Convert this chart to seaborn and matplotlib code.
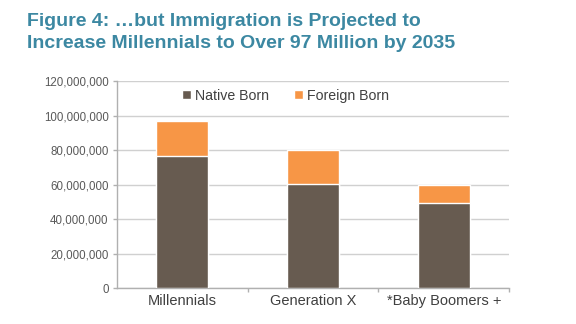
import matplotlib
matplotlib.use("Agg")
import matplotlib.pyplot as plt
import seaborn as sns
import pandas as pd
from matplotlib.patches import Patch
from matplotlib.ticker import FuncFormatter, MultipleLocator

categories = ["Millennials", "Generation X", "*Baby Boomers +"]
native_born = [76800000, 60300000, 49500000]
foreign_born = [20300000, 19900000, 10000000]

title = "Figure 4: \u2026but Immigration is Projected to\nIncrease Millennials to Over 97 Million by 2035"

sns.set_theme(style="white")
plt.rcParams['font.family'] = ['Liberation Sans', 'DejaVu Sans']

df = pd.DataFrame({"cat": categories, "native": native_born, "foreign": foreign_born})
df["total"] = df["native"] + df["foreign"]

fig = plt.figure(figsize=(5.76, 3.24), dpi=100)
ax = fig.add_axes([0.203, 0.111, 0.681, 0.639])

c_native = "#675b50"
c_foreign = "#f79646"

sns.barplot(data=df, x="cat", y="total", color=c_foreign, saturation=1, width=0.40, ax=ax, zorder=2)
sns.barplot(data=df, x="cat", y="native", color=c_native, saturation=1, width=0.40, ax=ax, zorder=3)

ax.set_ylim(0, 120000000)
ax.set_xlim(-0.5, 2.5)
ax.yaxis.set_major_locator(MultipleLocator(20000000))
ax.yaxis.set_major_formatter(FuncFormatter(lambda v, p: f"{int(v):,}"))
ax.grid(axis="y", color="#d0d0d0", linewidth=1, zorder=0)
ax.set_axisbelow(True)
ax.set_xlabel("")
ax.set_ylabel("")

for s in ["top", "right"]:
    ax.spines[s].set_visible(False)
for s in ["left", "bottom"]:
    ax.spines[s].set_color("#b0b0b0")
    ax.spines[s].set_linewidth(1)

ax.tick_params(axis="y", labelsize=8.3, colors="#595959", length=3, width=1, left=True, pad=3)
ax.tick_params(axis="y", color="#b0b0b0")
ax.tick_params(axis="x", labelsize=10.5, colors="#404040", length=0, pad=4)
ax.set_xticks([0.5, 1.5, 2.5], minor=True)
ax.tick_params(axis="x", which="minor", bottom=True, length=3, width=1, color="#b0b0b0")

handles = [Patch(facecolor=c_native, label="Native Born"), Patch(facecolor=c_foreign, label="Foreign Born")]
ax.legend(handles=handles, loc="upper center", bbox_to_anchor=(0.43, 1.025), ncol=2, frameon=False,
          fontsize=10.2, handlelength=0.6, handleheight=0.6, handletextpad=0.3, columnspacing=1.8,
          labelcolor="#404040")

fig.text(0.047, 0.96, title, ha="left", va="top", fontsize=14.0, fontweight="bold",
         color="#3c88a2", linespacing=1.4)

fig.savefig("out.png", dpi=100)
